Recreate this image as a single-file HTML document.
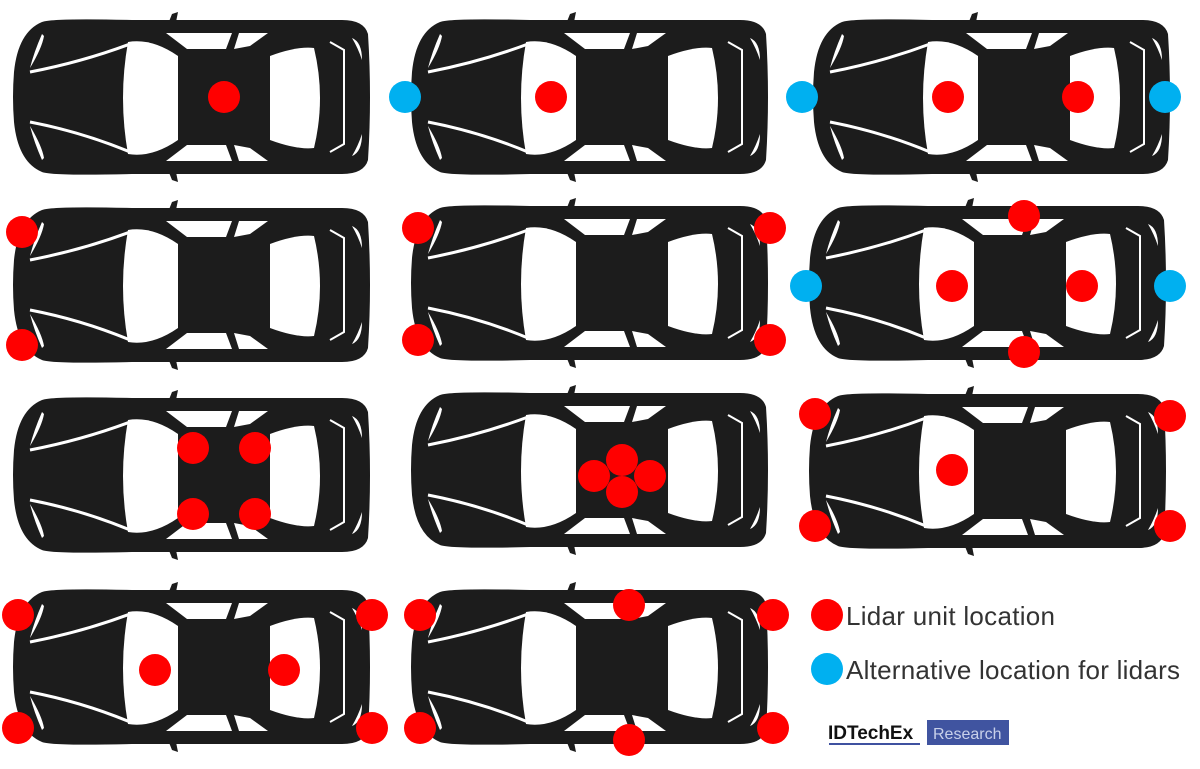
<!DOCTYPE html>
<html><head><meta charset="utf-8"><style>
body{margin:0;background:#fff;width:1200px;height:764px;overflow:hidden;font-family:"Liberation Sans",sans-serif}
</style></head><body>
<svg width="1200" height="764" viewBox="0 0 1200 764" xmlns="http://www.w3.org/2000/svg">
<defs>
<g id="car">
<path d="M160,2 L166,0 L164,10 L156,12 Z M160,168 L166,170 L164,160 L156,158 Z" fill="#1c1c1c"/>
<path d="M30,10 Q40,6 120,8 L330,8 Q352,8 356,22 Q360,85 356,148 Q352,162 330,162 L120,162 Q40,164 30,160 Q6,150 2,110 Q0,85 2,60 Q6,20 30,10 Z" fill="#1c1c1c"/>
<path d="M116,30 Q140,26 166,44 L166,128 Q140,146 116,142 Q106,86 116,30 Z" fill="#fff"/>
<path d="M258,44 Q285,34 302,36 Q314,86 302,136 Q285,138 258,128 Z" fill="#fff"/>
<path d="M154,21 L220,21 L214,37 L175,37 Z M227,21 L256,21 L238,34 L222,37 Z" fill="#fff"/>
<path d="M154,149 L220,149 L214,133 L175,133 Z M227,149 L256,149 L238,136 L222,133 Z" fill="#fff"/>
<path d="M18,60 Q70,50 118,32" stroke="#fff" stroke-width="3" fill="none"/>
<path d="M18,110 Q70,120 118,140" stroke="#fff" stroke-width="3" fill="none"/>
<path d="M30,22 Q22,40 18,56 Q30,36 32,24 Z M30,148 Q22,130 18,114 Q30,134 32,146 Z" fill="#fff"/>
<path d="M318,30 L332,38 L332,132 L318,140" stroke="#fff" stroke-width="2" fill="none"/>
<path d="M340,26 Q350,30 350,48 Q346,36 340,26 Z M340,144 Q350,140 350,122 Q346,134 340,144 Z" fill="#fff"/>
</g>
</defs>
<use href="#car" x="12" y="12"/>
<use href="#car" x="410" y="12"/>
<use href="#car" x="812" y="12"/>
<use href="#car" x="12" y="200"/>
<use href="#car" x="410" y="198"/>
<use href="#car" x="808" y="198"/>
<use href="#car" x="12" y="390"/>
<use href="#car" x="410" y="385"/>
<use href="#car" x="808" y="386"/>
<use href="#car" x="12" y="582"/>
<use href="#car" x="410" y="582"/>
<g fill="#f00">
<circle cx="224" cy="97" r="16"/>
<circle cx="551" cy="97" r="16"/>
<circle cx="948" cy="97" r="16"/><circle cx="1078" cy="97" r="16"/>
<circle cx="22" cy="232" r="16"/><circle cx="22" cy="345" r="16"/>
<circle cx="418" cy="228" r="16"/><circle cx="418" cy="340" r="16"/><circle cx="770" cy="228" r="16"/><circle cx="770" cy="340" r="16"/>
<circle cx="1024" cy="216" r="16"/><circle cx="1024" cy="352" r="16"/><circle cx="952" cy="286" r="16"/><circle cx="1082" cy="286" r="16"/>
<circle cx="193" cy="448" r="16"/><circle cx="255" cy="448" r="16"/><circle cx="193" cy="514" r="16"/><circle cx="255" cy="514" r="16"/>
<circle cx="622" cy="460" r="16"/><circle cx="594" cy="476" r="16"/><circle cx="650" cy="476" r="16"/><circle cx="622" cy="492" r="16"/>
<circle cx="815" cy="414" r="16"/><circle cx="1170" cy="416" r="16"/><circle cx="815" cy="526" r="16"/><circle cx="1170" cy="526" r="16"/><circle cx="952" cy="470" r="16"/>
<circle cx="18" cy="615" r="16"/><circle cx="18" cy="728" r="16"/><circle cx="372" cy="615" r="16"/><circle cx="372" cy="728" r="16"/><circle cx="155" cy="670" r="16"/><circle cx="284" cy="670" r="16"/>
<circle cx="420" cy="615" r="16"/><circle cx="420" cy="728" r="16"/><circle cx="773" cy="615" r="16"/><circle cx="773" cy="728" r="16"/><circle cx="629" cy="605" r="16"/><circle cx="629" cy="740" r="16"/>
<circle cx="827" cy="615" r="16"/>
</g>
<g fill="#00b0f0">
<circle cx="405" cy="97" r="16"/>
<circle cx="802" cy="97" r="16"/><circle cx="1165" cy="97" r="16"/>
<circle cx="806" cy="286" r="16"/><circle cx="1170" cy="286" r="16"/>
<circle cx="827" cy="669" r="16"/>
</g>
<text x="846" y="625" font-size="26" fill="#333" font-family="Liberation Sans, sans-serif" textLength="209">Lidar unit location</text>
<text x="846" y="679" font-size="26" fill="#333" font-family="Liberation Sans, sans-serif" textLength="334">Alternative location for lidars</text>
<text x="828" y="739" font-size="19" font-weight="bold" fill="#111" font-family="Liberation Sans, sans-serif">IDTechEx</text>
<rect x="829" y="743" width="91" height="2" fill="#3f51a0"/>
<rect x="927" y="720" width="82" height="25" fill="#4054a0"/>
<text x="933" y="739" font-size="16" fill="#c8d0ea" font-family="Liberation Sans, sans-serif">Research</text>
</svg>
</body></html>
